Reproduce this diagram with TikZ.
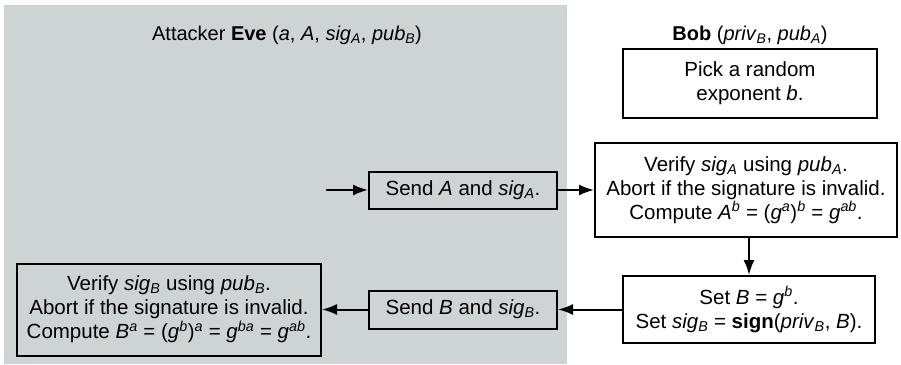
\documentclass[tikz,border=0pt]{standalone}
\usepackage{fontspec}
\setmainfont{Liberation Sans}
\usepackage{xcolor}
\usepackage{tikz}
\usetikzlibrary{arrows.meta, positioning}
\definecolor{evegray}{RGB}{206,211,211}
\newcommand{\sbi}[1]{\textsubscript{\textit{#1}}}
\newcommand{\spi}[1]{\textsuperscript{\textit{#1}}}

\begin{document}
\begin{tikzpicture}[x=1pt, y=-1pt]
\tikzstyle{box} = [rectangle, draw, line width=2pt, align=center, inner sep=2pt, font=\fontsize{20.5}{24}\selectfont]
\tikzstyle{arr} = [line width=2pt, -{Latex[length=15pt,width=11pt]}]

\useasboundingbox (0,0) rectangle (901,364);
\fill[evegray] (4,5) rectangle (567,364);

% titles
\node (evetitle) at (287,35) [font=\fontsize{20}{24}\selectfont] {Attacker \textbf{Eve} (\textit{a}, \textit{A}, \textit{sig}\sbi{A}, \textit{pub}\sbi{B})};
\node (bobtitle) at (750,35) [font=\fontsize{20}{24}\selectfont] {\textbf{Bob} (\textit{priv}\sbi{B}, \textit{pub}\sbi{A})};

% Bob
\node (pick) at (750,83.5) [box, minimum width=254pt, minimum height=69pt] {Pick a random\\exponent \textit{b}.};
\node (verA) at (746,190) [box, minimum width=302pt, minimum height=94pt] {Verify \textit{sig}\sbi{A} using \textit{pub}\sbi{A}.\\Abort if the signature is invalid.\\Compute \textit{A}\spi{b} = (\textit{g}\spi{a})\spi{b} = \textit{g}\spi{ab}.};
\node (set) at (749,309.5) [box, minimum width=252pt, minimum height=67pt] {Set \textit{B} = \textit{g}\spi{b}.\\Set \textit{sig}\sbi{B} = \textbf{sign}(\textit{priv}\sbi{B}, \textit{B}).};

% Eve
\coordinate (fromA) at (326,190);
\node (sendA) at (463,190) [box, fill=evegray, minimum width=188pt, minimum height=37pt] {Send \textit{A} and \textit{sig}\sbi{A}.};
\node (sendB) at (463,309.5) [box, fill=evegray, minimum width=188pt, minimum height=38pt] {Send \textit{B} and \textit{sig}\sbi{B}.};
\node (verB) at (169,309.5) [box, fill=evegray, minimum width=304pt, minimum height=92pt] {Verify \textit{sig}\sbi{B} using \textit{pub}\sbi{B}.\\Abort if the signature is invalid.\\Compute \textit{B}\spi{a} = (\textit{g}\spi{b})\spi{a} = \textit{g}\spi{ba} = \textit{g}\spi{ab}.};

\draw [arr] (fromA) -- (sendA);
\draw [arr] (sendA) -- (verA);
\draw [arr] (verA.south -| set.north) -- (set.north);
\draw [arr] (set) -- (sendB);
\draw [arr] (sendB) -- (verB);
\end{tikzpicture}
\end{document}
